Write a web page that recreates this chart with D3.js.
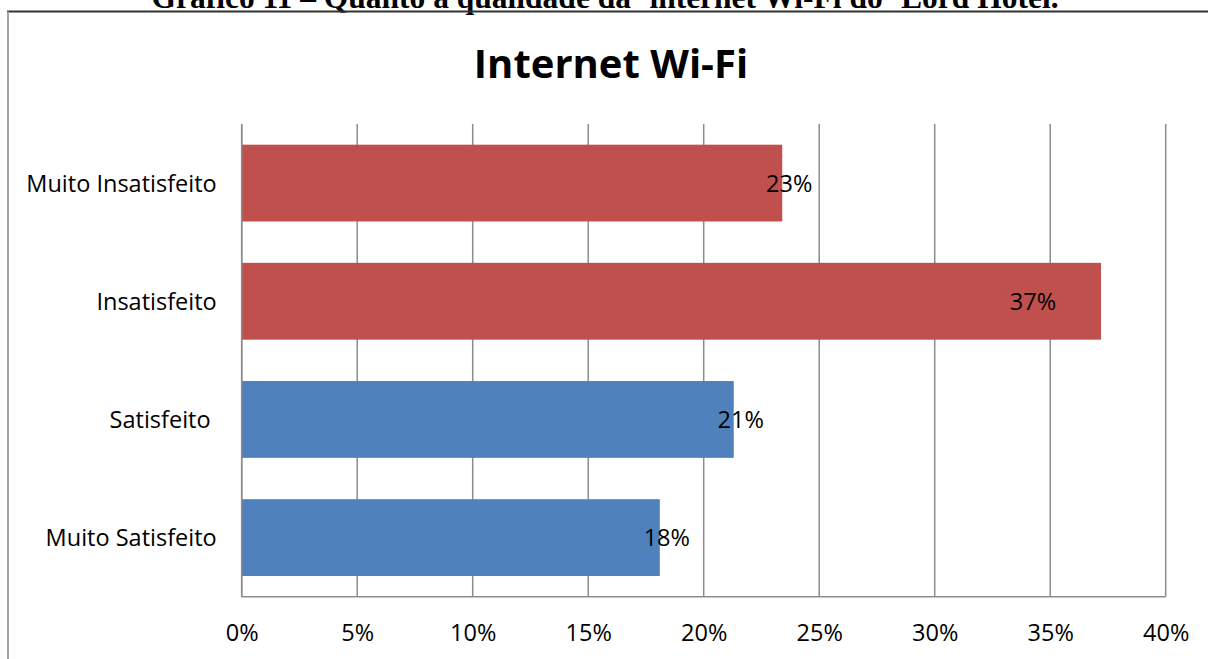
<!DOCTYPE html>
<html><head><meta charset="utf-8">
<script src="https://cdn.jsdelivr.net/npm/d3@7"></script>
<style>
body{margin:0;background:#fff;}
svg{display:block;}
text{font-family:"Open Sans",Lato,sans-serif;font-variant-ligatures:none;}
</style></head>
<body><svg id="c" width="1208" height="659"></svg>
<script>
const pageCaption = "Gráfico 11 – Quanto à qualidade da ‘internet Wi-Fi do ‘Lord Hotel.";
const chartTitle = "Internet Wi-Fi";
const categories = ["Muito Insatisfeito", "Insatisfeito", "Satisfeito ", "Muito Satisfeito"];
const values = [23.4, 37.2, 21.3, 18.1];
const valueLabels = ["23%", "37%", "21%", "18%"];
const barColors = ["#C0504D", "#C0504D", "#4F81BD", "#4F81BD"];
const labelInside = [false, true, false, false];
const tickValues = [0, 5, 10, 15, 20, 25, 30, 35, 40];

const svg = d3.select("#c");
const W = 1208, H = 659;
const m = {left: 241.7, right: 1165.7, top: 124, bottom: 596.7};
const FS = "23.5px";

// page caption (cut off at the top, as in the source image)
svg.append("text").attr("x", 605).attr("y", 8)
  .attr("text-anchor", "middle")
  .style("font-family", "'Liberation Serif','Times New Roman',serif")
  .style("font-weight", "bold").style("font-size", "31.5px")
  .text(pageCaption);
// frame
svg.append("line").attr("x1", 7).attr("x2", W).attr("y1", 11.5).attr("y2", 11.5)
  .attr("stroke", "#333").attr("stroke-width", 2);
svg.append("line").attr("x1", 8).attr("x2", 8).attr("y1", 11).attr("y2", H)
  .attr("stroke", "#888").attr("stroke-width", 1.5);

const x = d3.scaleLinear().domain([0, 40]).range([m.left, m.right]);
const y = d3.scaleBand().domain(categories).range([m.top, m.bottom])
  .paddingInner(0.35).paddingOuter(0.175);

// gridlines
svg.append("g").selectAll("line").data(tickValues).join("line")
  .attr("x1", d => x(d)).attr("x2", d => x(d))
  .attr("y1", m.top).attr("y2", m.bottom)
  .attr("stroke", "#8c8c8c").attr("stroke-width", 1.5);

// bars
svg.append("g").selectAll("rect").data(values).join("rect")
  .attr("x", x(0)).attr("y", (d, i) => y(categories[i]))
  .attr("width", d => x(d) - x(0)).attr("height", y.bandwidth())
  .attr("fill", (d, i) => barColors[i]);

// axes lines
svg.append("line").attr("x1", x(0)).attr("x2", x(0)).attr("y1", m.top).attr("y2", m.bottom)
  .attr("stroke", "#8c8c8c").attr("stroke-width", 1.5);
svg.append("line").attr("x1", x(0)).attr("x2", x(40)).attr("y1", m.bottom).attr("y2", m.bottom)
  .attr("stroke", "#8c8c8c").attr("stroke-width", 1.5);

// x tick labels
const xAxis = d3.axisBottom(x).tickValues(tickValues).tickSize(0).tickPadding(0)
  .tickFormat(d => d + "%");
const gx = svg.append("g").attr("transform", `translate(0,${m.bottom})`).call(xAxis);
gx.select(".domain").remove();
gx.selectAll("text").attr("y", 44.5).attr("dy", 0)
  .style("font-family", "'Open Sans',Lato,sans-serif").style("font-size", FS).attr("fill", "#000");

// y category labels
const yAxis = d3.axisLeft(y).tickSize(0).tickPadding(0);
const gy = svg.append("g").attr("transform", `translate(${m.left - 25},0)`).call(yAxis);
gy.select(".domain").remove();
gy.selectAll("text").attr("dy", "0.36em").style("white-space", "pre")
  .style("font-family", "'Open Sans',Lato,sans-serif").style("font-size", FS).attr("fill", "#000");

// value labels
svg.append("g").selectAll("text").data(values).join("text")
  .attr("x", (d, i) => labelInside[i] ? x(d) - 68 : x(d) + 7)
  .attr("y", (d, i) => y(categories[i]) + y.bandwidth() / 2)
  .attr("dy", "0.36em").attr("text-anchor", "middle")
  .style("font-size", FS).attr("fill", "#000")
  .text((d, i) => valueLabels[i]);

// chart title
svg.append("text").attr("x", 611).attr("y", 78).attr("text-anchor", "middle")
  .style("font-weight", "bold").style("font-size", "40px").text(chartTitle);
</script></body></html>
